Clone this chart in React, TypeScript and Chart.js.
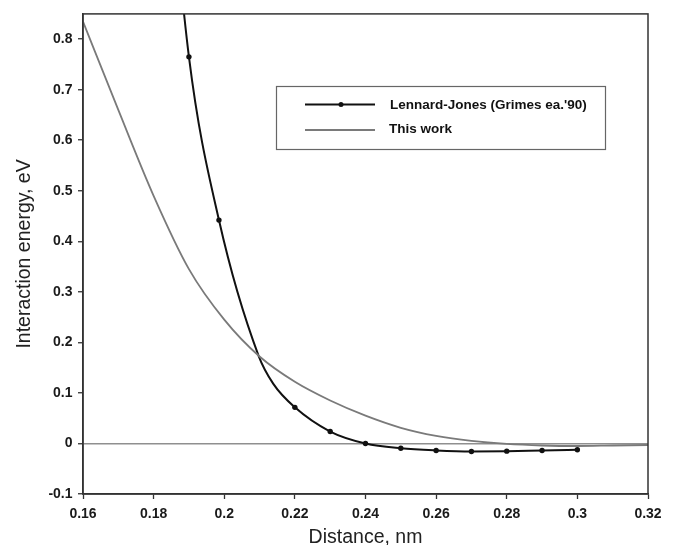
import React, { useEffect, useRef } from "react";
import { Chart, registerables } from "chart.js";

Chart.register(...registerables);

// Lennard-Jones (Grimes ea.'90): curve (first value lies above the visible range)
const LJ_LINE_X = [0.18, 0.19, 0.1985, 0.2097, 0.2139, 0.22, 0.23, 0.24, 0.25, 0.26, 0.27, 0.28, 0.29, 0.3];
const LJ_LINE_Y = [1.5, 0.765, 0.442, 0.174, 0.118, 0.0715, 0.0236, 0.0, -0.0095, -0.0138, -0.0158, -0.0152, -0.0138, -0.0125];
// Lennard-Jones markers
const LJ_MARK_X = [0.19, 0.1985, 0.22, 0.23, 0.24, 0.25, 0.26, 0.27, 0.28, 0.29, 0.3];
const LJ_MARK_Y = [0.765, 0.442, 0.0715, 0.0236, 0.0, -0.0095, -0.0138, -0.0158, -0.0152, -0.0138, -0.0125];

// This work
const TW_X = [0.16, 0.17, 0.18, 0.19, 0.2, 0.21, 0.22, 0.23, 0.24, 0.25, 0.26, 0.27, 0.28, 0.29, 0.3, 0.31, 0.32];
const TW_Y = [0.835, 0.66, 0.49, 0.345, 0.245, 0.172, 0.122, 0.085, 0.055, 0.031, 0.015, 0.005, -0.001, -0.004, -0.005, -0.004, -0.003];

const X_TICKS = [0.16, 0.18, 0.2, 0.22, 0.24, 0.26, 0.28, 0.3, 0.32];
const Y_TICKS = [-0.1, 0, 0.1, 0.2, 0.3, 0.4, 0.5, 0.6, 0.7, 0.8];

const LEGEND_LABELS = ["Lennard-Jones (Grimes ea.'90)", "This work"];

const FONT = "'Liberation Sans', Arial, sans-serif";

const framePlugin = {
  id: "frame",
  afterDatasetsDraw(chart: any) {
    const { ctx, chartArea } = chart;
    ctx.save();
    ctx.strokeStyle = "#333";
    ctx.lineWidth = 1.5;
    ctx.strokeRect(chartArea.left, chartArea.top, chartArea.right - chartArea.left, chartArea.bottom - chartArea.top);
    // legend box
    const bx = 276.5, by = 86.5, bw = 329, bh = 63;
    ctx.fillStyle = "#fff";
    ctx.fillRect(bx, by, bw, bh);
    ctx.strokeStyle = "#666";
    ctx.lineWidth = 1.2;
    ctx.strokeRect(bx, by, bw, bh);
    // entry 1
    ctx.strokeStyle = "#111";
    ctx.lineWidth = 2;
    ctx.beginPath();
    ctx.moveTo(305, 104.5);
    ctx.lineTo(375, 104.5);
    ctx.stroke();
    ctx.fillStyle = "#111";
    ctx.beginPath();
    ctx.arc(341, 104.5, 2.5, 0, Math.PI * 2);
    ctx.fill();
    // entry 2
    ctx.strokeStyle = "#7a7a7a";
    ctx.lineWidth = 1.8;
    ctx.beginPath();
    ctx.moveTo(305, 130);
    ctx.lineTo(375, 130);
    ctx.stroke();
    ctx.fillStyle = "#111";
    ctx.font = `bold 13.5px ${FONT}`;
    ctx.textBaseline = "middle";
    ctx.textAlign = "left";
    ctx.fillText(LEGEND_LABELS[0], 390, 105);
    ctx.fillText(LEGEND_LABELS[1], 389, 129.5);
    ctx.restore();
  },
};

export default function App() {
  const ref = useRef<HTMLCanvasElement | null>(null);
  useEffect(() => {
    if (!ref.current) return;
    const chart = new Chart(ref.current, {
      type: "scatter",
      data: {
        datasets: [
          {
            label: LEGEND_LABELS[1],
            data: TW_X.map((x, i) => ({ x, y: TW_Y[i] })),
            showLine: true,
            borderColor: "#7a7a7a",
            borderWidth: 1.8,
            pointRadius: 0,
            cubicInterpolationMode: "monotone",
          },
          {
            label: LEGEND_LABELS[0],
            data: LJ_LINE_X.map((x, i) => ({ x, y: LJ_LINE_Y[i] })),
            showLine: true,
            borderColor: "#111",
            borderWidth: 2,
            pointRadius: 0,
            cubicInterpolationMode: "monotone",
          },
          {
            label: LEGEND_LABELS[0] + " markers",
            data: LJ_MARK_X.map((x, i) => ({ x, y: LJ_MARK_Y[i] })),
            showLine: false,
            backgroundColor: "#111",
            borderColor: "#111",
            pointRadius: 2.7,
            pointBorderWidth: 0,
          },
        ],
      },
      options: {
        animation: false,
        responsive: false,
        maintainAspectRatio: false,
        layout: { padding: { top: 12, right: 26, left: 0, bottom: 0 } },
        plugins: { legend: { display: false }, tooltip: { enabled: false } },
        scales: {
          x: {
            type: "linear",
            min: 0.16,
            max: 0.32,
            afterBuildTicks: (s: any) => {
              s.ticks = X_TICKS.map((v) => ({ value: v }));
            },
            afterFit: (s: any) => {
              s.height = 51;
            },
            ticks: {
              color: "#1a1a1a",
              font: { family: FONT, size: 14, weight: "bold" },
              padding: 7,
              maxRotation: 0,
              callback: (v: any) => String(+Number(v).toFixed(2)),
            },
            grid: { drawOnChartArea: false, tickLength: 5, tickColor: "#333", tickWidth: 1.3 },
            border: { color: "#333", width: 1.5 },
            title: {
              display: true,
              text: "Distance, nm",
              color: "#222",
              font: { family: FONT, size: 19.5, lineHeight: 1 },
              padding: { top: 0, bottom: -2.5 },
            },
          },
          y: {
            type: "linear",
            min: -0.1,
            max: 0.85,
            afterBuildTicks: (s: any) => {
              s.ticks = Y_TICKS.map((v) => ({ value: v }));
            },
            afterFit: (s: any) => {
              s.width = 83;
            },
            ticks: {
              color: "#1a1a1a",
              font: { family: FONT, size: 14, weight: "bold" },
              padding: 5.5,
              callback: (v: any) => String(+Number(v).toFixed(1)),
            },
            grid: {
              drawOnChartArea: true,
              color: (c: any) => (c.tick && Math.abs(c.tick.value) < 1e-9 ? "#8f8f8f" : "rgba(0,0,0,0)"),
              lineWidth: 1.5,
              tickLength: 5,
              tickColor: "#333",
              tickWidth: 1.3,
            },
            border: { color: "#333", width: 1.5 },
            title: {
              display: true,
              text: "Interaction energy, eV",
              color: "#222",
              font: { family: FONT, size: 19.5, lineHeight: 1 },
              padding: { top: 15, bottom: 0 },
            },
          },
        },
      },
      plugins: [framePlugin],
    });
    return () => chart.destroy();
  }, []);
  return (
    <div style={{ position: "fixed", left: 0, top: 0, width: 674, height: 545, background: "#fff" }}>
      <canvas ref={ref} width={674} height={545} style={{ width: 674, height: 545 }} />
    </div>
  );
}
